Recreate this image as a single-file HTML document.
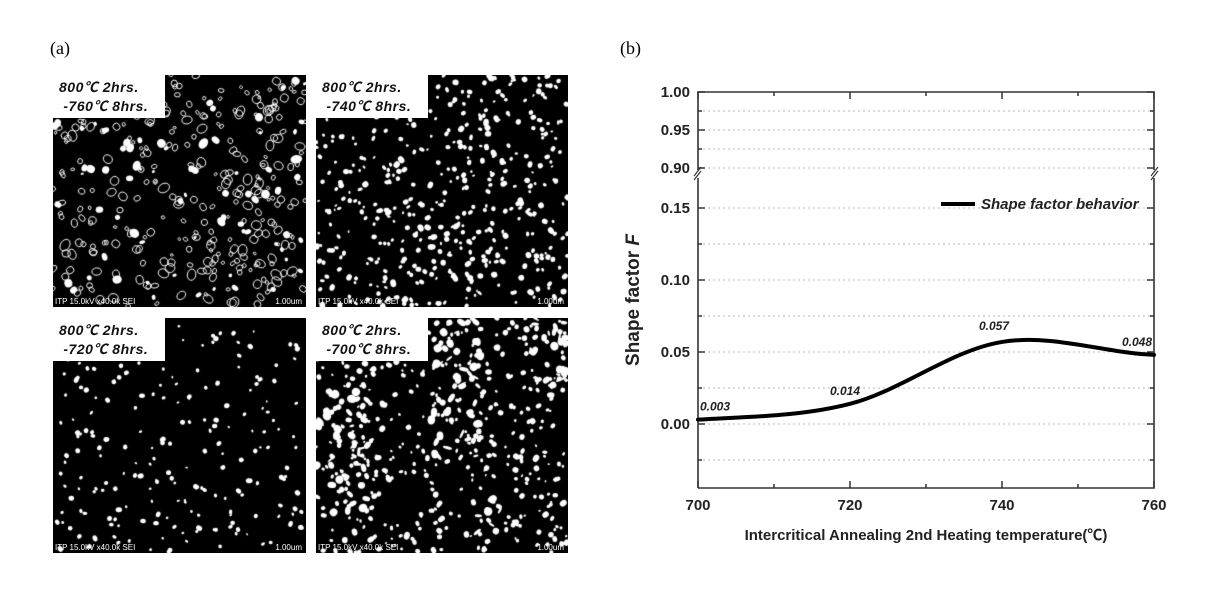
<!DOCTYPE html>
<html><head><meta charset="utf-8"><style>
html,body{margin:0;padding:0;background:#fff;width:1205px;height:592px;overflow:hidden;position:relative;font-family:"Liberation Sans","Noto Sans CJK SC",sans-serif}
.lab{position:absolute;font-family:"Liberation Serif",serif;font-size:18px;color:#000}
.mic{position:absolute;background:#000}
.mic canvas{position:absolute;left:0;top:0}
.box{position:absolute;left:0;top:0;width:112px;height:43px;background:#fff;font-style:italic;font-weight:bold;font-size:14px;line-height:19px;padding:3px 0 0 6px;box-sizing:border-box;color:#111;letter-spacing:0.5px}
.sb{position:absolute;bottom:1px;font-size:8px;color:#fff;white-space:nowrap}
</style></head><body>
<div class="lab" style="left:50px;top:38px">(a)</div>
<div class="lab" style="left:620px;top:38px">(b)</div>

<div class="mic" id="m1" style="left:53px;top:75px;width:253px;height:232px"><canvas width="253" height="232"></canvas><div class="box">800℃ 2hrs.<br>&nbsp;-760℃ 8hrs.</div><div class="sb" style="left:2px">ITP 15.0kV x40.0k SEI</div><div class="sb" style="right:4px">1.00um</div></div>
<div class="mic" id="m2" style="left:316px;top:75px;width:252px;height:232px"><canvas width="252" height="232"></canvas><div class="box">800℃ 2hrs.<br>&nbsp;-740℃ 8hrs.</div><div class="sb" style="left:2px">ITP 15.0kV x40.0k SEI</div><div class="sb" style="right:4px">1.00um</div></div>
<div class="mic" id="m3" style="left:53px;top:318px;width:253px;height:235px"><canvas width="253" height="235"></canvas><div class="box">800℃ 2hrs.<br>&nbsp;-720℃ 8hrs.</div><div class="sb" style="left:2px">ITP 15.0kV x40.0k SEI</div><div class="sb" style="right:4px">1.00um</div></div>
<div class="mic" id="m4" style="left:316px;top:318px;width:252px;height:235px"><canvas width="252" height="235"></canvas><div class="box">800℃ 2hrs.<br>&nbsp;-700℃ 8hrs.</div><div class="sb" style="left:2px">ITP 15.0kV x40.0k SEI</div><div class="sb" style="right:4px">1.00um</div></div>

<svg id="chart" width="1205" height="592" style="position:absolute;left:0;top:0"></svg>

<script>
// ---- micrograph texture (decorative) ----
var seed=7;function rnd(){seed=(seed*16807)%2147483647;return seed/2147483647;}
function mic(id,n,mode,rmin,rmax){
  var c=document.querySelector('#'+id+' canvas'),g=c.getContext('2d');
  g.fillStyle='#000';g.fillRect(0,0,c.width,c.height);
  g.fillStyle='#fff';g.strokeStyle='#fff';
  if(mode==='patch'){
    for(var k=0;k<700;k++){var px=rnd()*c.width,py=rnd()*c.height;
      var inBand=(px>115&&px<165&&py<140)||(px<55&&py>70&&py<200)||(px>215&&py<70)||(px>150&&px<200&&py>180);
      if(inBand&&rnd()<0.6){g.beginPath();g.ellipse(px,py,1+rnd()*3.5,1+rnd()*4,rnd()*3,0,6.3);g.fill();}}
  }
  for(var i=0;i<n;i++){
    var x=rnd()*c.width,y=rnd()*c.height,r=rmin+rnd()*(rmax-rmin);
    g.beginPath();g.ellipse(x,y,r,r*(0.6+rnd()*0.8),rnd()*3,0,6.3);
    if(mode==='ring'&&rnd()<0.8){g.lineWidth=1;g.stroke();}else g.fill();
  }
}
mic('m1',380,'ring',1.5,4.5);
mic('m2',480,'fill',1.3,3);
mic('m3',220,'fill',1.2,2.6);
mic('m4',420,'patch',1.2,3);

// ---- chart data ----
var temps=[700,720,740,760];
var values=[0.003,0.014,0.057,0.048];
var valueLabels=['0.003','0.014','0.057','0.048'];
var xTicks=[700,720,740,760];
var xMinor=[710,730,750];
var yTicksLow=[0.00,0.05,0.10,0.15];
var yTicksLowLabels=['0.00','0.05','0.10','0.15'];
var yMinorLow=[-0.025,0.025,0.075,0.125];
var yTicksHigh=[0.90,0.95,1.00];
var yTicksHighLabels=['0.90','0.95','1.00'];
var yMinorHigh=[0.925,0.975];

var NS='http://www.w3.org/2000/svg',svg=document.getElementById('chart');
var X0=698,X1=1154,YB=488,YT=92;
function xs(v){return X0+(v-700)/(760-700)*(X1-X0);}
function yLow(v){return 424-v/0.05*72;}
function yHigh(v){return 168-(v-0.90)/0.05*38;}
function el(t,a,txt){var e=document.createElementNS(NS,t);for(var k in a)e.setAttribute(k,a[k]);if(txt!==undefined)e.textContent=txt;svg.appendChild(e);return e;}

var lowTop=178;
function grid(y){var g=el('line',{x1:X0,x2:X1,y1:y,y2:y,stroke:'#bbb','stroke-width':1,'stroke-dasharray':'2,3'});}
yTicksLow.concat(yMinorLow).forEach(function(v){grid(yLow(v));});
yTicksHigh.slice(0,2).concat(yMinorHigh).forEach(function(v){grid(yHigh(v));});

var ax=el('path',{d:'M'+X0+','+YB+'V'+lowTop+'M'+X0+','+(lowTop-8)+'V'+YT+'H'+X1+'V'+(lowTop-8)+'M'+X1+','+lowTop+'V'+YB+'H'+X0,fill:'none',stroke:'#333','stroke-width':1.6});

var br=el('path',{d:'M'+(X0-4)+','+(lowTop-2)+'L'+(X0+3)+','+(lowTop-11)+'M'+(X0-4)+','+(lowTop+2)+'L'+(X0+3)+','+(lowTop-7)+'M'+(X1-3)+','+(lowTop-2)+'L'+(X1+4)+','+(lowTop-11)+'M'+(X1-3)+','+(lowTop+2)+'L'+(X1+4)+','+(lowTop-7),stroke:'#333','stroke-width':1.2,fill:'none'});


function ytick(y,len,lab){
  el('line',{x1:X0,x2:X0+len,y1:y,y2:y,stroke:'#333','stroke-width':1.5});
  el('line',{x1:X1,x2:X1-len,y1:y,y2:y,stroke:'#333','stroke-width':1.5});
  if(lab){var t=el('text',{x:X0-8,y:y+5,'text-anchor':'end','font-size':15,'font-weight':'bold',fill:'#222'},lab);}
}
yTicksLow.forEach(function(v,i){ytick(yLow(v),7,yTicksLowLabels[i]);});
yMinorLow.forEach(function(v){ytick(yLow(v),4);});
yTicksHigh.forEach(function(v,i){ytick(yHigh(v),7,yTicksHighLabels[i]);});
yMinorHigh.forEach(function(v){ytick(yHigh(v),4);});
xTicks.forEach(function(v){var x=xs(v);
  el('line',{x1:x,x2:x,y1:YB,y2:YB-7,stroke:'#333','stroke-width':1.5});
  el('line',{x1:x,x2:x,y1:YT,y2:YT+7,stroke:'#333','stroke-width':1.5});
  var t=el('text',{x:x,y:YB+22,'text-anchor':'middle','font-size':15,'font-weight':'bold',fill:'#222'},String(v));
  });
xMinor.forEach(function(v){var x=xs(v);
  el('line',{x1:x,x2:x,y1:YB,y2:YB-4,stroke:'#333','stroke-width':1.5});
  el('line',{x1:x,x2:x,y1:YT,y2:YT+4,stroke:'#333','stroke-width':1.5});});

var xt=el('text',{x:(X0+X1)/2,y:540,'text-anchor':'middle','font-size':15,'font-weight':'bold',fill:'#222'},'Intercritical Annealing 2nd Heating temperature(℃)');

var yt=el('text',{x:0,y:0,transform:'translate(639,300) rotate(-90)','text-anchor':'middle','font-size':19,'font-weight':'bold',fill:'#222'});
yt.innerHTML='Shape factor <tspan font-style="italic">F</tspan>';


var P=temps.map(function(t,i){return [xs(t),yLow(values[i])];});
var d='M'+P[0][0]+','+P[0][1];
for(var i=0;i<P.length-1;i++){
  var p0=P[i-1],p1=P[i],p2=P[i+1],p3=P[i+2];
  if(i===P.length-2)p3=[p2[0]+(p2[0]-p1[0]),p2[1]];
  if(i===0)p0=[p1[0]-(p2[0]-p1[0]),p1[1]+(p1[1]-p2[1])*0.2];
  d+='C'+(p1[0]+(p2[0]-p0[0])/6)+','+(p1[1]+(p2[1]-p0[1])/6)+' '+(p2[0]-(p3[0]-p1[0])/6)+','+(p2[1]-(p3[1]-p1[1])/6)+' '+p2[0]+','+p2[1];
}
var cv=el('path',{d:d,fill:'none',stroke:'#000','stroke-width':4,'stroke-linecap':'round'});


temps.forEach(function(t,i){
  var x=xs(t),anchor='middle';
  if(i===0){x+=2;anchor='start';} if(i===temps.length-1){x-=2;anchor='end';}
  if(i===1)x-=5; if(i===2)x-=8;
  var t2=el('text',{x:x,y:yLow(values[i])-(i===2?12:9),'text-anchor':anchor,'font-size':12,'font-weight':'bold','font-style':'italic',fill:'#222'},valueLabels[i]);
  
});

var lg=el('line',{x1:941,x2:975,y1:204,y2:204,stroke:'#000','stroke-width':4});

var lt=el('text',{x:981,y:209,'font-size':15,'font-weight':'bold','font-style':'italic',fill:'#222'},'Shape factor behavior');

</script>
</body></html>
